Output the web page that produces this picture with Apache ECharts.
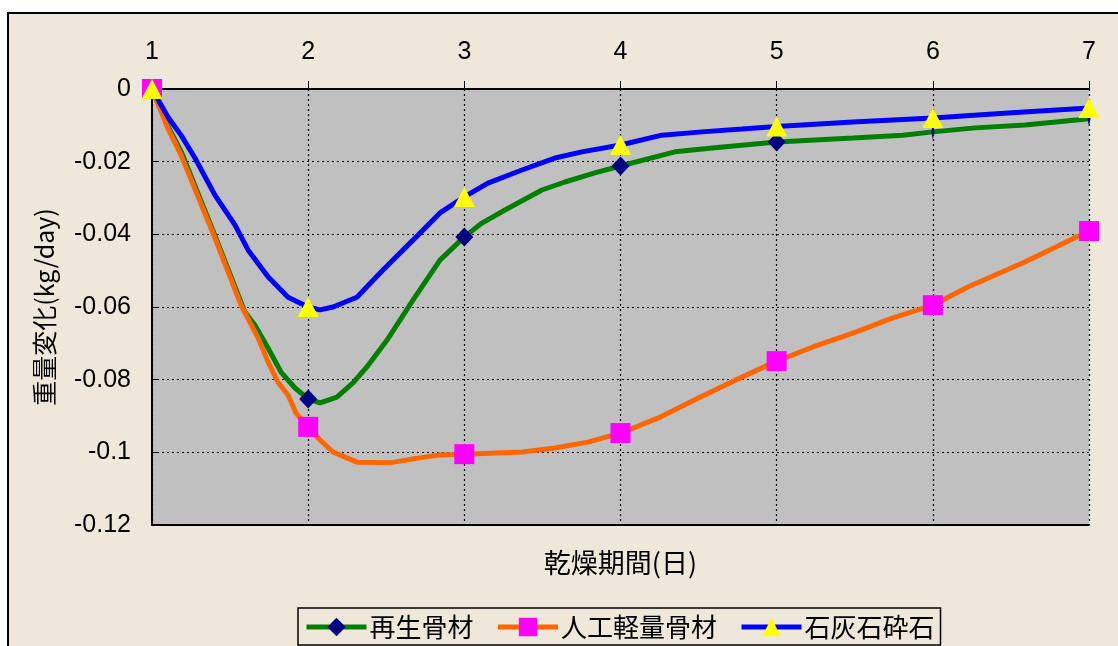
<!DOCTYPE html>
<html>
<head>
<meta charset="utf-8">
<script src="https://cdn.jsdelivr.net/npm/echarts@6/dist/echarts.min.js"></script>
<style>
html,body{margin:0;padding:0;background:#ffffff;width:1118px;height:646px;overflow:hidden;}
#frame{position:absolute;left:7px;top:12px;width:1130px;height:660px;background:#EFE8DA;border:2px solid #000;}
#chart{position:absolute;left:0;top:0;width:1118px;height:646px;}
</style>
</head>
<body>
<div id="frame"></div>
<div id="chart"></div>
<script>
const seriesNames = ['再生骨材', '人工軽量骨材', '石灰石砕石'];
const xAxisTitle = '乾燥期間(日)';
const yAxisTitle = '重量変化(kg/day)';

const greenDays = [1, 1.10, 1.19, 1.40, 1.595, 1.659, 1.743, 1.826, 1.916, 2, 2.076, 2.184, 2.287, 2.376, 2.505, 2.671, 2.844, 3, 3.113, 3.26, 3.497, 3.644, 3.836, 4, 4.348, 4.604, 5, 5.488, 5.808, 6, 6.27, 6.59, 7];
const greenVals = [0, -0.0100, -0.0175, -0.0400, -0.0614, -0.0650, -0.0713, -0.0779, -0.0823, -0.0853, -0.0864, -0.0848, -0.0809, -0.0765, -0.0691, -0.0581, -0.0471, -0.0407, -0.0369, -0.0333, -0.0278, -0.0256, -0.0231, -0.0212, -0.0173, -0.0162, -0.0146, -0.0135, -0.0127, -0.0118, -0.0107, -0.0099, -0.0082];

const orangeDays = [1, 1.10, 1.186, 1.23, 1.403, 1.57, 1.679, 1.743, 1.807, 1.871, 1.922, 2, 2.076, 2.159, 2.312, 2.524, 2.671, 2.844, 3, 3.369, 3.58, 3.791, 4, 4.239, 4.496, 4.777, 5, 5.232, 5.488, 5.744, 6, 6.224, 6.589, 7];
const orangeVals = [0, -0.0107, -0.0182, -0.0228, -0.0410, -0.0595, -0.0685, -0.0751, -0.0807, -0.0842, -0.0892, -0.0930, -0.0966, -0.0999, -0.1027, -0.1029, -0.1018, -0.1007, -0.1005, -0.0999, -0.0988, -0.0972, -0.0947, -0.0906, -0.0851, -0.0793, -0.0749, -0.0710, -0.0672, -0.0630, -0.0595, -0.0545, -0.0476, -0.0391];

const blueDays = [1, 1.102, 1.186, 1.275, 1.403, 1.531, 1.615, 1.743, 1.871, 2, 2.076, 2.159, 2.312, 2.479, 2.671, 2.844, 3, 3.151, 3.369, 3.58, 3.753, 4, 4.265, 4.521, 4.777, 5, 5.488, 6, 6.48, 7];
const blueVals = [0, -0.0077, -0.0127, -0.0190, -0.0292, -0.0374, -0.0443, -0.0517, -0.0573, -0.0600, -0.0608, -0.0600, -0.0573, -0.0498, -0.0416, -0.0341, -0.0297, -0.0259, -0.0223, -0.0190, -0.0173, -0.0154, -0.0127, -0.0118, -0.0110, -0.0103, -0.0091, -0.0080, -0.0066, -0.0052];

const xTicks = [1, 2, 3, 4, 5, 6, 7];
const yTickLabels = ['0', '-0.02', '-0.04', '-0.06', '-0.08', '-0.1', '-0.12'];

const FONT = '"Liberation Sans", Arial, "Noto Sans CJK JP", sans-serif';
const JFONT = '"Noto Sans CJK JP", "Liberation Sans", sans-serif';

function buildData(days, vals, thinDays) {
  return days.map(function (d, i) {
    const item = { value: [d, vals[i]] };
    if (!Number.isInteger(d)) {
      item.symbol = 'none';
    } else if (thinDays && thinDays.indexOf(d) >= 0) {
      item.symbolSize = [3, 16];
    }
    return item;
  });
}

const chart = echarts.init(document.getElementById('chart'), null, { renderer: 'canvas' });

const option = {
  backgroundColor: 'transparent',
  animation: false,
  grid: {
    left: 152, top: 89, right: 29, bottom: 121,
    show: true, backgroundColor: '#C0C0C0', borderWidth: 0
  },
  legend: {
    bottom: 1,
    left: 298,
    backgroundColor: '#EFE8DA',
    borderColor: '#000',
    borderWidth: 1.5,
    padding: [6, 6, 5, 6],
    itemGap: 22,
    itemWidth: 60,
    itemHeight: 23,
    lineStyle: { width: 5 },
    textStyle: { fontFamily: JFONT, fontSize: 26, color: '#000', padding: [0, 0, 0, -2] },
    data: seriesNames
  },
  xAxis: [{
    type: 'value', position: 'top', min: 1, max: 7, interval: 1,
    axisLine: { show: true, onZero: false, lineStyle: { color: '#000', width: 2 } },
    axisTick: { show: true, inside: false, length: 8, lineStyle: { color: '#000', width: 1 } },
    axisLabel: { fontFamily: FONT, fontSize: 25, color: '#000', margin: 24,
      formatter: function (v) { return xTicks.indexOf(v) >= 0 ? String(v) : ''; } },
    splitLine: { show: true, lineStyle: { color: '#000', type: [2, 3], width: 1.2 } }
  }, {
    type: 'value', position: 'bottom', min: 1, max: 7, interval: 1,
    axisLine: { show: true, onZero: false, lineStyle: { color: '#000', width: 2 } },
    axisTick: { show: false }, axisLabel: { show: false }, splitLine: { show: false },
    name: xAxisTitle, nameLocation: 'middle', nameGap: 24,
    nameTextStyle: { fontFamily: JFONT, fontSize: 27, color: '#000' }
  }],
  yAxis: {
    type: 'value', min: -0.12, max: 0, interval: 0.02,
    axisLine: { show: true, onZero: false, lineStyle: { color: '#000', width: 2 } },
    axisTick: { show: true, inside: true, length: 6, lineStyle: { color: '#000' } },
    axisLabel: { fontFamily: FONT, fontSize: 25, color: '#000', margin: 21,
      formatter: function (v) { return yTickLabels[Math.round(-v / 0.02)]; } },
    splitLine: { show: true, lineStyle: { color: '#000', type: [2, 3], width: 1.2 } },
    name: yAxisTitle, nameLocation: 'middle', nameGap: 95, nameRotate: 90,
    nameTextStyle: { fontFamily: JFONT, fontSize: 25, color: '#000' }
  },
  series: [{
    name: seriesNames[0], type: 'line', xAxisIndex: 0,
    symbol: 'diamond', symbolSize: [18, 19], showSymbol: true, showAllSymbol: true,
    lineStyle: { color: '#008000', width: 5 },
    itemStyle: { color: '#000080', borderWidth: 0 },
    data: buildData(greenDays, greenVals, [6, 7]),
    z: 3
  }, {
    name: seriesNames[1], type: 'line', xAxisIndex: 0,
    symbol: 'rect', symbolSize: 20, showSymbol: true, showAllSymbol: true,
    lineStyle: { color: '#FF6600', width: 5 },
    itemStyle: { color: '#FF00FF', borderWidth: 0 },
    data: buildData(orangeDays, orangeVals),
    z: 4
  }, {
    name: seriesNames[2], type: 'line', xAxisIndex: 0,
    symbol: 'triangle', symbolSize: [21, 20], showSymbol: true, showAllSymbol: true,
    lineStyle: { color: '#0000FF', width: 5 },
    itemStyle: { color: '#FFFF00', borderWidth: 0 },
    data: buildData(blueDays, blueVals),
    z: 5
  }]
};
chart.setOption(option);
</script>
</body>
</html>
